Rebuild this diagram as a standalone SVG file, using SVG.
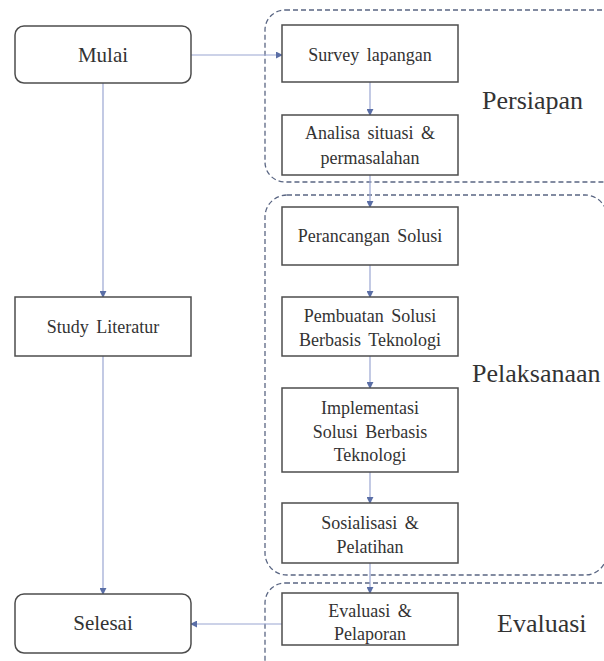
<svg xmlns="http://www.w3.org/2000/svg" width="604" height="661" viewBox="0 0 604 661">
<defs>
<style>
.box{fill:#fff;stroke:#4d4d4d;stroke-width:1.5}
.grp{fill:none;stroke:#5a6683;stroke-width:1.3;stroke-dasharray:5 3}
.t{font-family:'Liberation Serif','DejaVu Serif',serif;font-size:18px;fill:#333;text-anchor:middle;word-spacing:3px}
.tb{font-family:'Liberation Serif','DejaVu Serif',serif;font-size:21px;fill:#333;text-anchor:middle}
.lbl{font-family:'Liberation Serif','DejaVu Serif',serif;font-size:26px;fill:#333}
.c{fill:none;stroke:#9aa6d2;stroke-width:1.2;marker-end:url(#ah)}
</style>
<marker id="ah" viewBox="0 0 8 8" refX="7" refY="4" markerWidth="7" markerHeight="7" markerUnits="userSpaceOnUse" orient="auto">
<path d="M0,0 L8,4 L0,8 Z" fill="#5a6ea6"/>
</marker>
</defs>
<rect width="604" height="661" fill="#fff"/>
<g id="groups">
<rect class="grp" x="265" y="10" width="370" height="172" rx="20"/>
<rect class="grp" x="265" y="195" width="342" height="380" rx="22"/>
<rect class="grp" x="265" y="583" width="370" height="120" rx="20"/>
<text class="lbl" x="482" y="109">Persiapan</text>
<text class="lbl" x="472" y="382">Pelaksanaan</text>
<text class="lbl" x="497" y="632">Evaluasi</text>
</g>
<g id="connectors">
<path class="c" d="M191,55 H282"/>
<path class="c" d="M103,83 V297"/>
<path class="c" d="M103,356 V594"/>
<path class="c" d="M282,624 H191"/>
<path class="c" d="M370,82 V115"/>
<path class="c" d="M370,175 V207"/>
<path class="c" d="M370,265 V297"/>
<path class="c" d="M370,356 V388"/>
<path class="c" d="M370,472 V503"/>
<path class="c" d="M370,563 V593"/>
</g>
<g id="mulai">
<rect class="box" x="15" y="26" width="176" height="57" rx="9"/>
<text class="tb" x="103" y="62">Mulai</text>
</g>
<g id="study">
<rect class="box" x="15" y="297" width="176" height="59"/>
<text class="t" x="103" y="333">Study Literatur</text>
</g>
<g id="selesai">
<rect class="box" x="15" y="594" width="176" height="59" rx="9"/>
<text class="tb" x="103" y="630">Selesai</text>
</g>
<g id="survey">
<rect class="box" x="282" y="25" width="176" height="57"/>
<text class="t" x="370" y="61">Survey lapangan</text>
</g>
<g id="analisa">
<rect class="box" x="282" y="115" width="176" height="60"/>
<text class="t" x="370" y="139">Analisa situasi &amp;</text>
<text class="t" x="370" y="164">permasalahan</text>
</g>
<g id="perancangan">
<rect class="box" x="282" y="207" width="176" height="58"/>
<text class="t" x="370" y="242">Perancangan Solusi</text>
</g>
<g id="pembuatan">
<rect class="box" x="282" y="297" width="176" height="59"/>
<text class="t" x="370" y="322">Pembuatan Solusi</text>
<text class="t" x="370" y="346">Berbasis Teknologi</text>
</g>
<g id="implementasi">
<rect class="box" x="282" y="388" width="176" height="84"/>
<text class="t" x="370" y="414">Implementasi</text>
<text class="t" x="370" y="438">Solusi Berbasis</text>
<text class="t" x="370" y="461">Teknologi</text>
</g>
<g id="sosialisasi">
<rect class="box" x="282" y="503" width="176" height="60"/>
<text class="t" x="370" y="529">Sosialisasi &amp;</text>
<text class="t" x="370" y="553">Pelatihan</text>
</g>
<g id="evaluasi">
<rect class="box" x="282" y="593" width="176" height="52"/>
<text class="t" x="370" y="617">Evaluasi &amp;</text>
<text class="t" x="370" y="640">Pelaporan</text>
</g>
</svg>
